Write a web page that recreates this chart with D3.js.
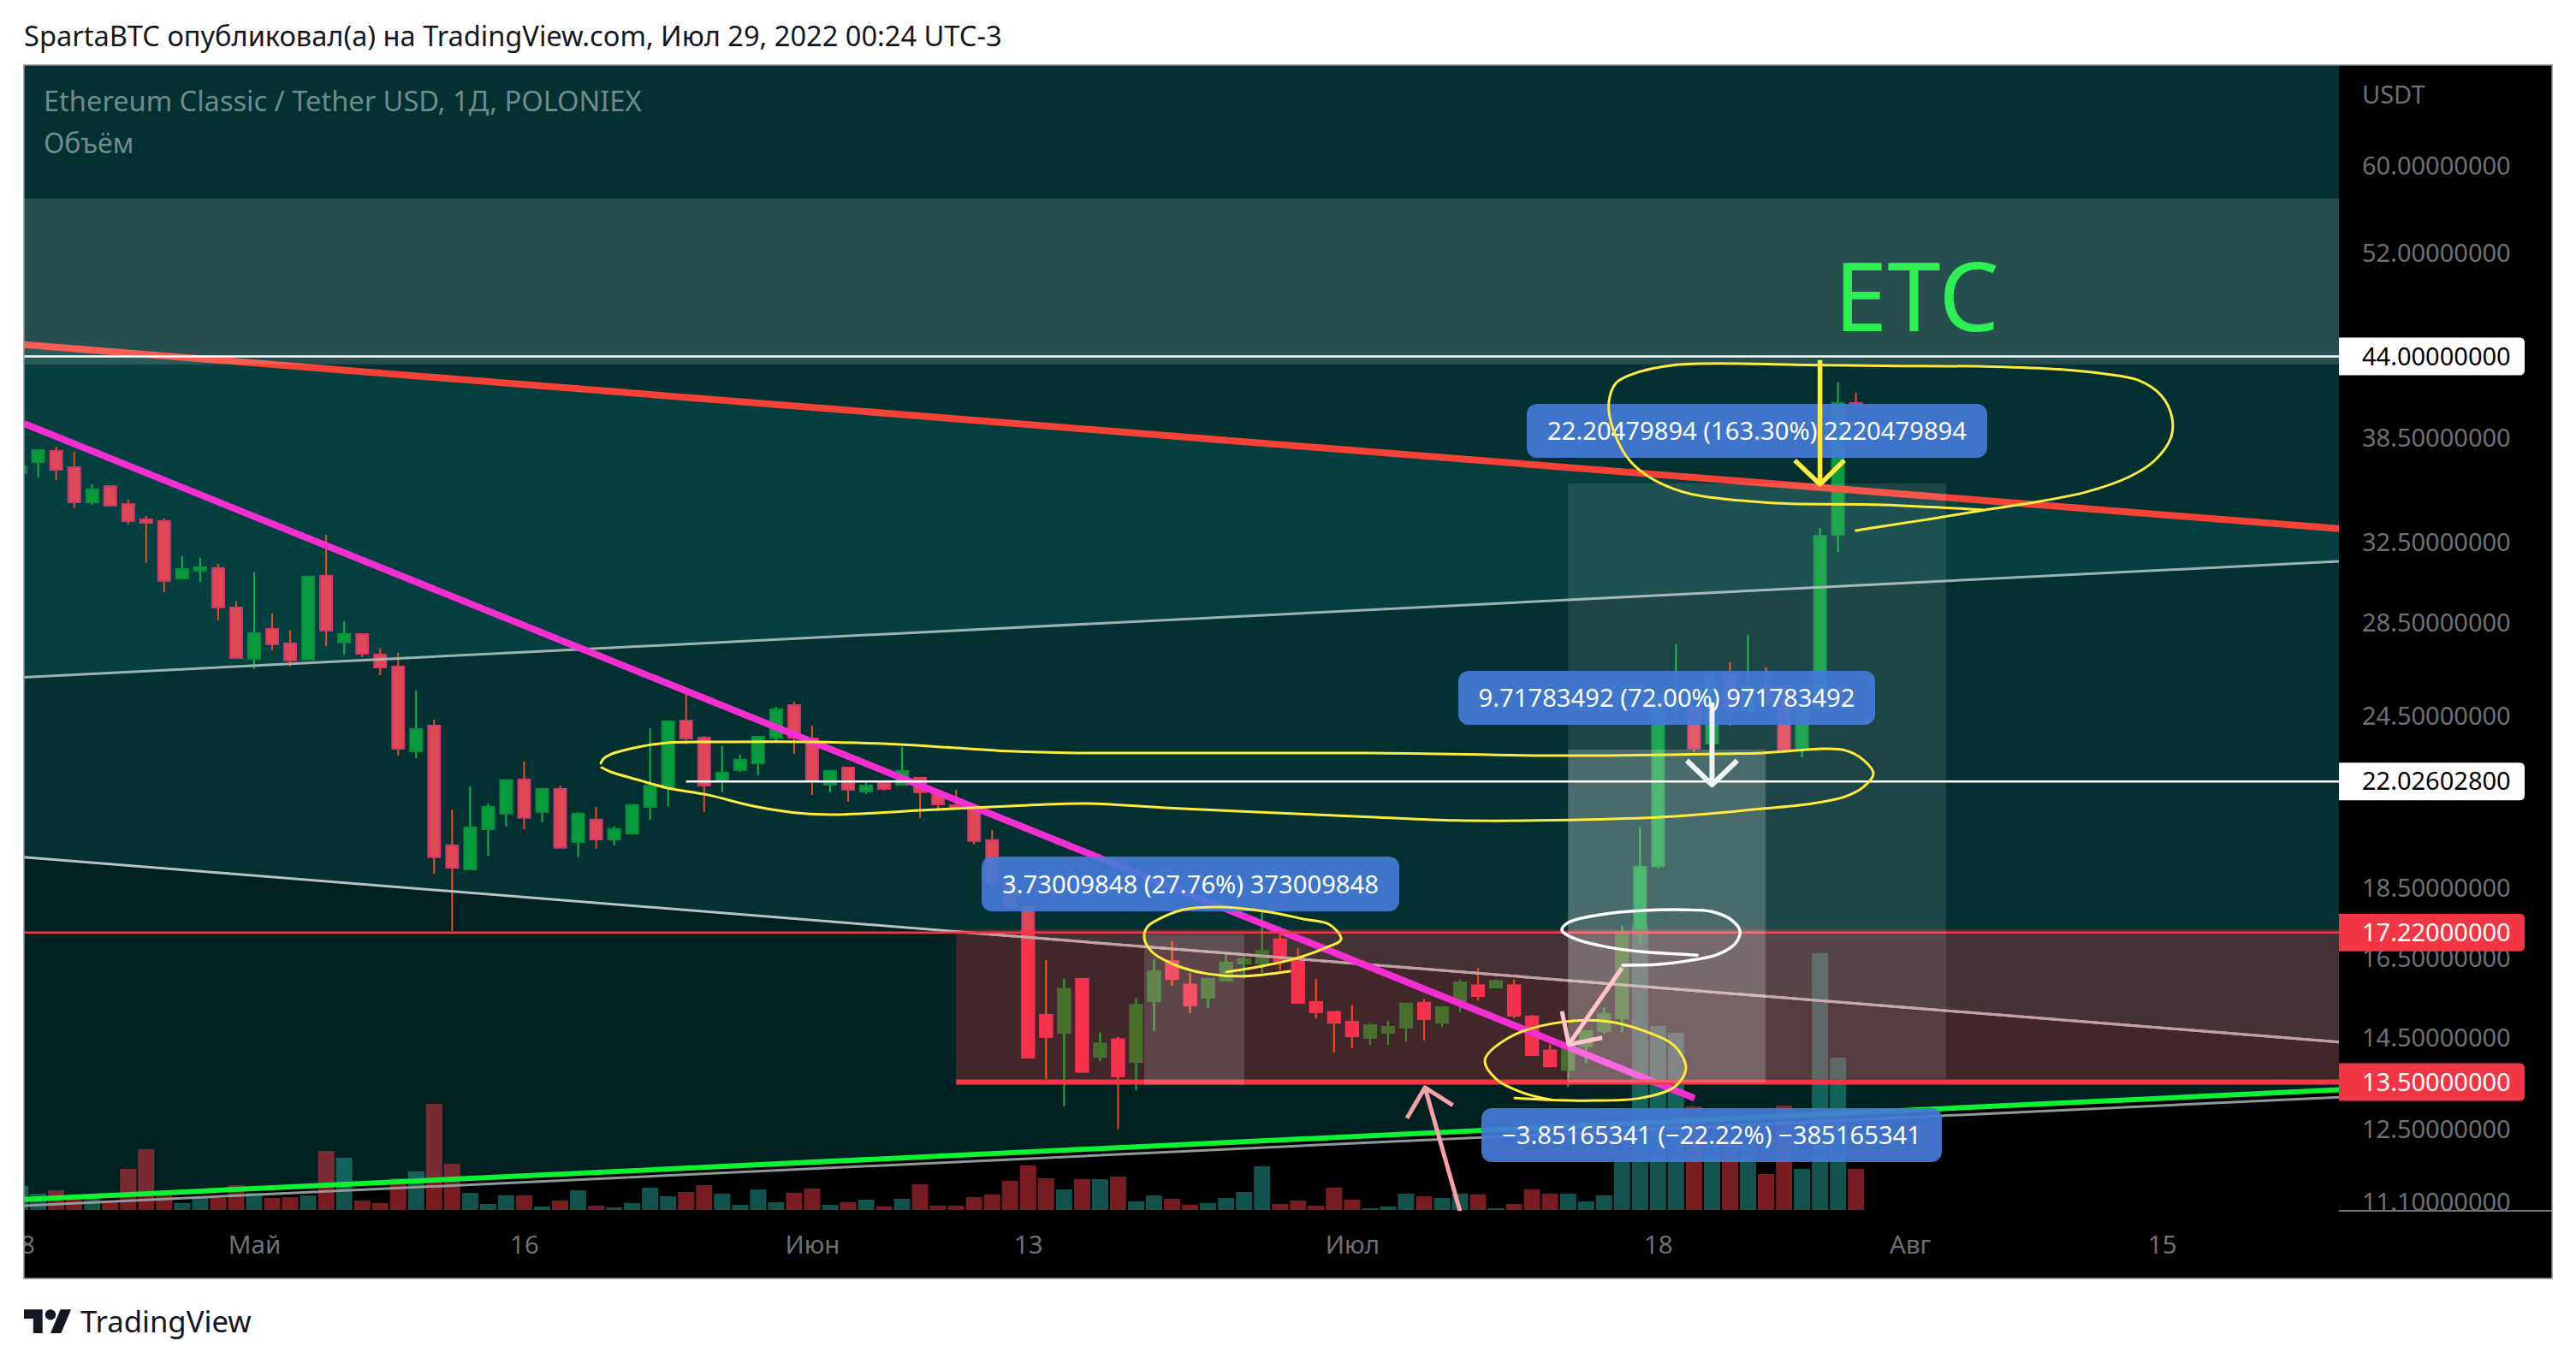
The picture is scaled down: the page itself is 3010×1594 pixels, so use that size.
<!DOCTYPE html>
<html>
<head>
<meta charset="utf-8">
<title>ETC</title>
<script src="https://cdn.jsdelivr.net/npm/d3@7"></script>
<style>
  html, body { margin: 0; padding: 0; background: #fff; }
  svg { display: block; }
  text { font-family: "Noto Sans", sans-serif; }
</style>
</head>
<body>
<div id="chart"></div>
<script>
// daily candles, index 0 = 18 Apr 2022, index 102 = 29 Jul 2022
const opens = [36.39,37.05,37.73,36.74,34.70,35.63,34.60,33.75,33.66,30.66,31.05,31.18,29.24,
  26.90,28.24,27.58,26.86,30.79,27.62,28.00,27.08,26.56,23.14,24.12,19.85,19.09,20.38,20.90,22.10,20.96,21.76,19.96,20.70,20.04,20.24,21.13,21.79,24.32,23.65,22.04,22.44,22.69,23.65,24.94,
  23.62,21.91,22.53,21.67,21.97,21.91,22.16,21.58,21.19,21.07,20.02,18.69,17.97,15.06,14.63,15.97,14.07,14.47,13.95,15.40,16.44,15.82,15.49,15.93,16.38,16.38,17.03,16.44,15.38,15.13,
  14.89,14.51,14.63,14.75,15.36,14.87,15.40,15.80,15.75,15.80,15.02,14.21,13.77,14.31,14.67,14.98,17.24,19.19,24.90,24.90,23.43,26.23,24.73,25.72,25.72,23.27,24.83,32.91,40.79];
const highs = [37.05,37.78,37.99,37.68,35.73,35.63,34.85,33.94,33.80,31.79,31.70,31.39,29.53,
  30.96,28.95,28.16,30.75,32.91,28.59,28.00,27.35,27.16,25.54,24.36,21.04,21.85,21.25,22.07,22.75,21.76,21.88,20.96,21.13,20.47,21.19,24.02,24.32,25.36,23.72,23.33,23.01,23.72,24.87,25.08,
  24.12,22.41,22.56,22.01,22.07,23.30,22.16,21.58,21.73,21.16,20.35,18.69,17.97,16.46,15.97,15.97,14.63,14.53,15.47,16.49,16.98,16.13,15.97,16.69,16.60,17.80,17.39,16.78,15.97,15.13,
  15.30,14.85,14.91,15.36,15.45,15.25,15.95,16.26,15.95,15.95,15.06,14.35,14.39,14.67,15.25,17.41,20.44,25.40,27.54,24.90,26.26,26.74,27.96,26.52,25.72,24.90,33.28,42.18,41.48];
const lows = [36.13,36.13,35.98,34.37,34.56,34.51,33.47,31.44,29.99,30.66,30.49,28.63,26.93,
  26.45,27.27,26.56,26.86,27.46,27.08,26.97,26.19,22.97,22.88,18.95,17.27,19.09,19.52,20.47,20.38,20.61,19.77,19.47,19.74,19.85,20.24,20.70,21.16,23.40,20.96,21.64,22.38,22.25,23.49,23.04,
  21.55,21.64,21.31,21.58,21.70,21.91,20.76,20.99,21.04,19.88,18.57,17.90,14.05,13.57,12.98,13.73,13.97,12.50,13.32,14.67,15.80,15.11,15.23,15.93,15.97,16.13,16.20,15.36,14.98,14.17,
  14.27,14.35,14.35,14.43,14.45,14.77,15.13,15.42,15.73,14.98,14.11,13.85,13.40,13.91,14.61,14.63,16.88,19.12,24.29,23.10,23.43,24.12,24.63,24.90,23.17,22.91,24.73,32.00,40.28];
const closes = [36.79,37.78,36.59,34.70,35.44,34.51,33.66,33.56,30.53,31.13,31.22,29.24,26.93,
  28.04,27.54,26.82,30.75,28.16,28.00,27.12,26.52,23.23,23.99,19.47,19.14,20.44,21.13,22.07,20.76,21.76,19.77,20.90,20.04,20.38,21.19,21.88,24.29,23.62,21.88,22.35,22.82,23.69,24.77,23.65,
  22.04,22.41,21.73,21.88,21.76,22.41,21.64,21.22,21.07,19.99,18.69,17.95,14.05,14.53,15.71,13.73,14.37,13.63,15.30,16.17,15.97,15.30,15.97,16.40,16.49,16.71,16.44,15.36,15.13,14.87,
  14.55,14.81,14.77,15.34,14.96,15.25,15.88,15.53,15.91,15.04,14.11,13.85,14.35,14.67,15.08,17.24,19.17,25.29,25.36,23.23,26.04,24.83,25.68,25.01,23.17,24.83,32.86,40.79,40.67];
// volume, relative units (tallest bar about 300)
const volumes = [28,19,23,13,14,10,48,71,18,8,14,14,29,
  20,14,15,17,69,61,11,8,37,45,124,54,20,7,17,17,4,11,23,5,3,8,26,16,21,29,19,6,24,9,20,
  25,6,9,12,4,13,30,5,5,15,18,34,52,37,24,36,36,39,10,17,13,6,8,14,21,51,7,11,5,26,
  12,2,4,19,16,14,19,18,2,7,24,19,19,10,17,58,333,215,207,121,77,77,77,42,122,48,300,178,48];

const priceTicks = [60,52,38.5,32.5,28.5,24.5,18.5,16.5,14.5,12.5,11.1];
const timeTicks = [0,13,28,44,56,74,91,105,119];
const timeLabels = ['18','Май','16','Июн','13','Июл','18','Авг','15'];

// price badges on the axis
const badgePrices = [44,22.026028,17.22,13.5];
const badgeKinds = ['white','white','red','red'];

// trend lines: [day index, price] at both chart edges
const redLine = [[0.21,44.85],[128.84,33.24]];
const greyUpper = [[0.21,26.10],[128.84,31.52]];
const greyLower = [[0.21,19.47],[128.84,14.41]];
const greenLine = [[0.21,11.15],[128.84,13.33]];
const greyBottom = [[0.21,11.04],[128.84,13.17]];
const magentaLine = [[0.21,39.45],[93.03,13.15]];

// measure boxes: dayFrom, dayTo, priceTop, priceBottom
const zoneBand = [0.21,128.84,56.9,43.44];
const zoneRed = [52,128.84,17.31,13.44];
const boxSmall = [62.45,68,17.17,13.44];
const boxMiddle = [86,96.98,23.2,13.49];
const boxTall = [86,107,35.78,13.57];

// hand drawn marks, [day index, price]
const ellipseLong = [[32.26,22.69],[32.40,22.85],[32.78,23.01],[34.40,23.30],[35.97,23.46],[39.15,23.49],[43.91,23.49],[48.66,23.40],[51.80,23.27],[54.89,23.14],[58.74,23.07],[74.96,23.07],[85.90,22.97],[94.36,23.04],[96.79,23.07],[100.2,23.23],[101.4,23.17],[102.4,22.82],[102.97,22.31],[102.4,21.82],[101.4,21.49],[99.6,21.25],[96.79,21.07],[91.94,20.81],[87.09,20.70],[79.81,20.67],[74.96,20.79],[68.45,20.96],[63.60,21.10],[59.22,21.25],[54.99,21.16],[50.23,21.02],[45.48,20.87],[43.58,20.90],[40.72,21.16],[38.2,21.55],[35.97,21.79],[34.40,22.07],[32.78,22.38],[32.31,22.53]];
const ellipseTop = [[102,33.14],[103.5,33.37],[106,33.75],[109.15,34.27],[111.6,34.65],[114.8,35.29],[117.2,36.18],[118.6,37.15],[119.5,38.56],[119.55,39.88],[118.95,41.30],[117.75,42.30],[115.75,42.78],[113.3,43.09],[109.6,43.28],[103.5,43.34],[99.2,43.40],[91.94,43.40],[89.5,42.72],[88.65,42.12],[88.27,40.85],[88.42,39.39],[89.5,37.05],[91.94,35.44],[96.79,34.70],[103.5,34.56],[109.15,34.27]];
const ellipseJune = [[70.54,16.17],[67.97,16.04],[66.02,16.10],[64.36,16.30],[62.88,16.69],[62.45,17.08],[62.64,17.39],[63.26,17.60],[64.59,17.87],[66.78,17.95],[69.2,17.82],[71.35,17.60],[72.77,17.44],[73.39,17.03],[72.58,16.81],[70.87,16.51],[68.92,16.30],[67.02,16.15]];
const ellipseBottom = [[83.04,13.15],[85.14,13.11],[87.56,13.10],[89.99,13.15],[91.94,13.40],[92.55,13.81],[91.94,14.31],[90.51,14.63],[88.03,14.91],[85.14,14.85],[82.7,14.51],[81.38,13.99],[82.0,13.57],[83.47,13.27],[85.14,13.11]];
const ellipseWhite = [[93.17,16.60],[90.17,16.69],[88.27,16.81],[86.37,17.05],[85.66,17.29],[86.04,17.51],[87.79,17.73],[90.17,17.85],[92.55,17.87],[93.98,17.82],[95.07,17.58],[95.55,17.27],[95.31,16.93],[94.31,16.62],[92.55,16.44],[91.0,16.35],[89.03,16.33]];

const arrowYellow = [[[100,43.74],[100,35.73]],[[98.6,37.15],[100,35.73],[101.35,37.15]]];
const arrowWhite = [[[94,25.05],[94,21.91]],[[92.6,22.79],[94,21.91],[95.4,22.79]]];
const arrowPink = [[[89,16.26],[86.04,14.35]],[[85.66,15.15],[86.04,14.35],[87.9,14.51]]];
const arrowSalmon = [[[80,10.94],[78.05,13.38]],[[77.05,12.73],[78.05,13.38],[79.6,13.0]]];

const width = 3010, height = 1594;
const paneLeft = 28, paneRight = 2733, outerRight = 2982, paneTop = 76, paneBottom = 1415, chartBottom = 1494;
const volBase = 1414;

const x = d3.scaleLinear().domain([0, 102]).range([23.6, 2168.7]);
const y = d3.scaleLog().domain([60, 11.1]).range([194, 1405]);
const v = d3.scaleLinear().domain([0, 300]).range([volBase, volBase - 300]);

const candles = d3.range(opens.length).map(i => ({i, o: opens[i], h: highs[i], l: lows[i], c: closes[i], vol: volumes[i], up: closes[i] >= opens[i]}));

const svg = d3.select('#chart').append('svg').attr('width', width).attr('height', height);
const defs = svg.append('defs');

function addClip(id, x0, y0, w, h) {
	defs.append('clipPath').attr('id', id).append('rect').attr('x', x0).attr('y', y0).attr('width', w).attr('height', h);
}
addClip('plot', paneLeft, paneTop, paneRight - paneLeft, paneBottom - paneTop);
addClip('timeClip', paneLeft, paneBottom, paneRight - paneLeft, chartBottom - paneBottom);
addClip('axisClip', paneRight, paneTop, outerRight - paneRight, paneBottom - paneTop);
addClip('inZone', x(zoneRed[0]), y(zoneRed[2]), paneRight - x(zoneRed[0]), y(zoneRed[3]) - y(zoneRed[2]));

svg.append('rect').attr('x', paneLeft).attr('y', paneTop).attr('width', outerRight - paneLeft).attr('height', chartBottom - paneTop).attr('fill', '#000');

const plot = svg.append('g').attr('clip-path', 'url(#plot)');

plot.append('rect').attr('x', paneLeft).attr('y', paneTop).attr('width', paneRight - paneLeft).attr('height', paneBottom - paneTop).attr('fill', '#033131');

const px = p => [x(p[0]), y(p[1])];
function band(a, b, fill) {
	const pts = [px(a[0]), px(a[1]), px(b[1]), px(b[0])];
	plot.append('polygon').attr('points', pts.join(' ')).attr('fill', fill);
}
band(redLine, greyUpper, '#053f3f');
band(greyLower, greenLine, '#012020');
plot.append('polygon')
	.attr('points', [px(greenLine[0]), px(greenLine[1]), [paneRight, paneBottom], [paneLeft, paneBottom]].join(' '))
	.attr('fill', '#000');

function box(z, fill, opacity) {
	plot.append('rect')
		.attr('x', x(z[0])).attr('y', y(z[2]))
		.attr('width', x(z[1]) - x(z[0])).attr('height', y(z[3]) - y(z[2]))
		.attr('fill', fill).attr('fill-opacity', opacity);
}

// volume
plot.append('g').selectAll('rect').data(candles).enter().append('rect')
	.attr('x', d => x(d.i) - 9.5)
	.attr('y', d => v(d.vol))
	.attr('width', 19)
	.attr('height', d => volBase - v(d.vol))
	.attr('fill', d => d.up ? 'rgba(38,166,154,0.5)' : 'rgba(242,54,69,0.5)');

box(zoneRed, '#f23645', 0.27);

function drawCandles(parent, col) {
	parent.selectAll('line').data(candles).enter().append('line')
		.attr('x1', d => x(d.i)).attr('x2', d => x(d.i))
		.attr('y1', d => y(d.h)).attr('y2', d => y(d.l))
		.attr('stroke', d => d.up ? col.upWick : col.downWick)
		.attr('stroke-width', 2);
	parent.selectAll('rect').data(candles).enter().append('rect')
		.attr('x', d => x(d.i) - 7)
		.attr('y', d => y(Math.max(d.o, d.c)))
		.attr('width', 14)
		.attr('height', d => Math.max(1, Math.abs(y(d.o) - y(d.c))))
		.attr('fill', d => d.up ? col.up : col.down)
		.attr('stroke', d => d.up ? col.upEdge : col.downEdge)
		.attr('stroke-width', 2);
}
drawCandles(plot.append('g'), {up: '#089c3e', upEdge: '#0a8f3c', upWick: '#10b346', down: '#e04858', downEdge: '#d2386a', downWick: '#ee4d1f'});
drawCandles(plot.append('g').attr('clip-path', 'url(#inZone)'), {up: '#4a6e2e', upEdge: '#4a6e2e', upWick: '#3f8a30', down: '#f6324c', downEdge: '#f6324c', downWick: '#f2451f'});

const trend = d3.line().x(d => x(d[0])).y(d => y(d[1]));
function trendLine(pts, color, w, clip) {
	const path = plot.append('path').attr('d', trend(pts)).attr('fill', 'none').attr('stroke', color).attr('stroke-width', w);
	if (clip) path.attr('clip-path', clip);
}
trendLine(greyUpper, '#9db3b1', 3);
trendLine(greyLower, '#b9c2c1', 3);
trendLine(greyLower, '#c39ea2', 3, 'url(#inZone)'); // tinted where the red zone covers it
trendLine(greyBottom, '#8f9a9a', 3);
trendLine(greenLine, '#0df232', 6);
trendLine(redLine, '#f44336', 8);
trendLine(magentaLine, '#f42fd2', 8);

// horizontal levels
trendLine([[0.21,17.22],[128.84,17.22]], '#f23645', 2.5);
trendLine([[zoneRed[0],13.5],[128.84,13.5]], '#f23645', 6);

box(zoneBand, '#fff', 0.15);
box(boxTall, '#fff', 0.1);
box(boxMiddle, '#fff', 0.2);
box(boxSmall, '#fff', 0.15);

trendLine([[0.21,44],[128.84,44]], '#fff', 2.5);
trendLine([[37,22.026028],[128.84,22.026028]], '#fff', 2.5);

// measure labels
const labels = [
	{t: '3.73009848 (27.76%) 373009848', x0: 1147, x1: 1635, y0: 1001, y1: 1065},
	{t: '22.20479894 (163.30%) 2220479894', x0: 1784, x1: 2322, y0: 472, y1: 535},
	{t: '9.71783492 (72.00%) 971783492', x0: 1704, x1: 2191, y0: 784, y1: 847},
	{t: '\u22123.85165341 (\u221222.22%) \u2212385165341', x0: 1731, x1: 2269, y0: 1295, y1: 1358}
];
const lab = plot.append('g').selectAll('g').data(labels).enter().append('g');
lab.append('rect')
	.attr('x', d => d.x0).attr('y', d => d.y0)
	.attr('width', d => d.x1 - d.x0).attr('height', d => d.y1 - d.y0)
	.attr('rx', 12).attr('fill', '#437bd8').attr('fill-opacity', 0.92);
lab.append('text')
	.attr('x', d => (d.x0 + d.x1) / 2).attr('y', d => (d.y0 + d.y1) / 2).attr('dy', '.36em')
	.attr('text-anchor', 'middle').attr('fill', '#fff').attr('font-size', 29.2)
	.text(d => d.t);

// hand drawn, on top of the labels
const free = d3.line().x(d => x(d[0])).y(d => y(d[1])).curve(d3.curveCatmullRom.alpha(0.5));
function freehand(pts, color, w) {
	plot.append('path').attr('d', free(pts)).attr('fill', 'none').attr('stroke', color).attr('stroke-width', w)
		.attr('stroke-linecap', 'round').attr('stroke-linejoin', 'round');
}
freehand(ellipseLong, '#ffeb3b', 3);
freehand(ellipseTop, '#ffeb3b', 3);
freehand(ellipseJune, '#ffeb3b', 3);
freehand(ellipseBottom, '#ffeb3b', 3);
freehand(ellipseWhite, '#fff', 3.5);

function arrow(a, color, w) {
	a.forEach(pts => {
		plot.append('path').attr('d', trend(pts)).attr('fill', 'none').attr('stroke', color).attr('stroke-width', w)
			.attr('stroke-linejoin', 'round');
	});
}
arrow(arrowYellow, '#ffeb3b', 5.5);
arrow(arrowWhite, '#eef3f3', 6);
arrow(arrowPink, '#ffc5ca', 5);
arrow(arrowSalmon, '#f5a3a8', 5);

plot.append('text').attr('x', 2143).attr('y', 387).attr('fill', '#2ef052').attr('font-size', 112).text('ETC');
plot.append('text').attr('x', 51).attr('y', 130).attr('fill', '#6f8c8c').attr('font-size', 32.6).text('Ethereum Classic / Tether USD, 1Д, POLONIEX');
plot.append('text').attr('x', 51).attr('y', 179).attr('fill', '#6f8c8c').attr('font-size', 32).text('Объём');

// price axis
const axisY = svg.append('g').attr('clip-path', 'url(#axisClip)').append('g')
	.attr('transform', `translate(2760,0)`)
	.call(d3.axisRight(y).tickValues(priceTicks).tickFormat(d3.format('.8f')).tickSize(0).tickPadding(0));
axisY.select('.domain').remove();
axisY.selectAll('text').attr('font-size', 29).attr('fill', '#6f7076').style('font-family', '"Noto Sans", sans-serif');

svg.append('text').attr('x', 2760).attr('y', 121).attr('fill', '#6f7076').attr('font-size', 29).text('USDT');
svg.append('line').attr('x1', paneRight).attr('x2', outerRight).attr('y1', paneBottom).attr('y2', paneBottom).attr('stroke', '#6f7076').attr('stroke-width', 2);

// axis badges
const badgeFormat = d3.format('.8f');
const badges = svg.append('g').selectAll('g').data(badgePrices).enter().append('g');
badges.append('path')
	.attr('d', d => {
		const c = y(d), t = c - 22, b = c + 22, r = 6, e = 2950;
		return `M${paneRight},${t}H${e - r}Q${e},${t} ${e},${t + r}V${b - r}Q${e},${b} ${e - r},${b}H${paneRight}Z`;
	})
	.attr('fill', (d, i) => badgeKinds[i] === 'red' ? '#f23645' : '#fff');
badges.append('text')
	.attr('x', 2760).attr('y', d => y(d)).attr('dy', '.35em')
	.attr('font-size', 29)
	.attr('fill', (d, i) => badgeKinds[i] === 'red' ? '#fff' : '#000')
	.text(d => badgeFormat(d));

// time axis
const axisX = svg.append('g').attr('clip-path', 'url(#timeClip)').append('g')
	.attr('transform', 'translate(0,1455)')
	.call(d3.axisBottom(x).tickValues(timeTicks).tickFormat((d, i) => timeLabels[i]).tickSize(0).tickPadding(0));
axisX.select('.domain').remove();
axisX.selectAll('text').attr('y', 0).attr('dy', '.35em').attr('font-size', 29.5).attr('fill', '#6f7076').style('font-family', '"Noto Sans", sans-serif');

// frame
svg.append('rect').attr('x', paneLeft).attr('y', paneTop).attr('width', outerRight - paneLeft).attr('height', chartBottom - paneTop)
	.attr('fill', 'none').attr('stroke', '#8c8f98').attr('stroke-width', 1.5);

// header and footer
svg.append('text').attr('x', 28).attr('y', 54).attr('fill', '#131722').attr('font-size', 32.6)
	.text('SpartaBTC опубликовал(а) на TradingView.com, Июл 29, 2022 00:24 UTC-3');
svg.append('g').attr('transform', 'translate(28,1524) scale(1.55)').call(g => {
	g.append('path').attr('d', 'M14 22H7V11H0V4h14v18zM28 22h-8l7.5-18h8L28 22z').attr('fill', '#131722');
	g.append('circle').attr('cx', 20).attr('cy', 8).attr('r', 4).attr('fill', '#131722');
});
svg.append('text').attr('x', 94).attr('y', 1557).attr('fill', '#131722').attr('font-size', 34.7).text('TradingView');
</script>
</body>
</html>
